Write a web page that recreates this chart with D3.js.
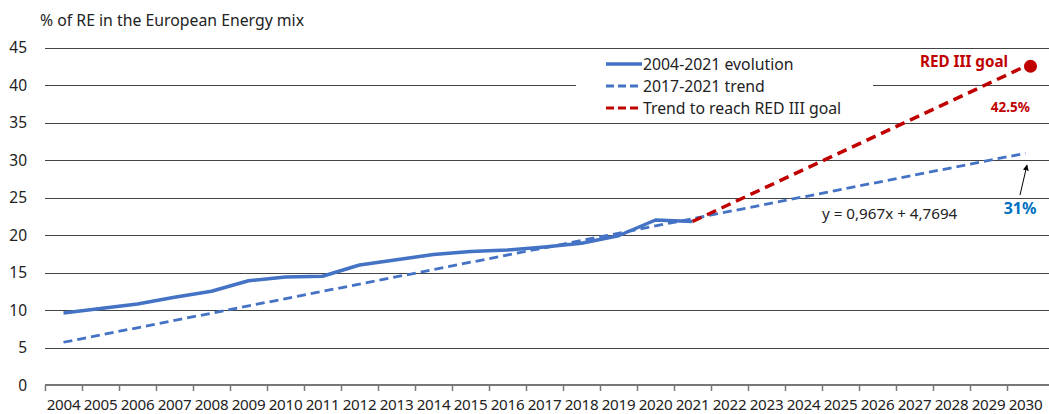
<!DOCTYPE html>
<html>
<head>
<meta charset="utf-8">
<script src="https://cdn.jsdelivr.net/npm/d3@7"></script>
<style>
  body { margin: 0; background: #fff; }
  svg { display: block; font-family: "Noto Sans", sans-serif; }
</style>
</head>
<body>
<svg id="chart" width="1049" height="414"></svg>
<script>
// categories
const years = d3.range(2004, 2031)
// 2004-2021 evolution (% RE)
const evoYears = d3.range(2004, 2022)
const evoValues = [9.6, 10.2, 10.8, 11.7, 12.5, 13.9, 14.4, 14.5, 16.0, 16.7, 17.4, 17.8, 18.0, 18.4, 18.9, 19.9, 22.0, 21.8]
// 2017-2021 trend, drawn over the whole range
const trendYears = [2004, 2030]
const trendValues = [5.7, 30.9]
// trend to reach RED III goal
const goalYears = [2021, 2030]
const goalValues = [21.8, 42.5]
const yTicks = [0, 5, 10, 15, 20, 25, 30, 35, 40, 45]

const blue = "#4472C4", red = "#C00000", lblue = "#0070C0"

const svg = d3.select("#chart")
const mLeft = 45, mRight = 1044, mTop = 47.5, mBottom = 385

const x = d3.scaleBand().domain(years).range([mLeft, mRight])
const y = d3.scaleLinear().domain([0, 45]).range([mBottom, mTop])
const cx = d => x(d) + x.bandwidth() / 2

// gridlines
svg.append("g").selectAll("line")
  .data(yTicks.filter(d => d > 0))
  .enter().append("line")
    .attr("x1", mLeft).attr("x2", 1049)
    .attr("y1", d => Math.round(y(d)) + 0.5).attr("y2", d => Math.round(y(d)) + 0.5)
    .attr("stroke", "#444").attr("stroke-width", 1)

// y labels
svg.append("g").selectAll("text")
  .data(yTicks)
  .enter().append("text")
    .attr("x", 27).attr("y", d => y(d) + 5.5)
    .attr("text-anchor", "end")
    .attr("font-size", 15.5).attr("fill", "#222")
    .text(d => d)

svg.append("text")
  .attr("x", 40).attr("y", 26)
  .attr("font-size", 15.8).attr("fill", "#222")
  .text("% of RE in the European Energy mix")

// x axis
const xAxis = svg.append("g")
xAxis.append("line")
  .attr("x1", mLeft).attr("x2", 1049)
  .attr("y1", mBottom).attr("y2", mBottom)
  .attr("stroke", "#777").attr("stroke-width", 2)
xAxis.selectAll(".tk")
  .data(years)
  .enter().append("line")
    .attr("class", "tk")
    .attr("x1", d => Math.round(x(d)) + 0.5).attr("x2", d => Math.round(x(d)) + 0.5)
    .attr("y1", mBottom).attr("y2", mBottom + 6)
    .attr("stroke", "#777").attr("stroke-width", 1.5)
xAxis.selectAll("text")
  .data(years)
  .enter().append("text")
    .attr("x", d => cx(d)).attr("y", 410)
    .attr("text-anchor", "middle")
    .attr("font-size", 15.2).attr("letter-spacing", -0.3).attr("fill", "#222")
    .text(d => d)

const line = d3.line().x(d => cx(d[0])).y(d => y(d[1]))

// legend box (white, hides grid)
svg.append("rect")
  .attr("x", 576).attr("y", 50).attr("width", 297).attr("height", 68)
  .attr("fill", "#fff")

// 2017-2021 trend
svg.append("path")
  .datum(d3.zip(trendYears, trendValues))
  .attr("d", line)
  .attr("fill", "none").attr("stroke", blue)
  .attr("stroke-width", 2.8).attr("stroke-dasharray", "9,5")

// evolution
svg.append("path")
  .datum(d3.zip(evoYears, evoValues))
  .attr("d", line)
  .attr("fill", "none").attr("stroke", blue)
  .attr("stroke-width", 3.5).attr("stroke-linejoin", "round")

// RED III trend
svg.append("path")
  .datum(d3.zip(goalYears, goalValues))
  .attr("d", line)
  .attr("fill", "none").attr("stroke", red)
  .attr("stroke-width", 3.5).attr("stroke-dasharray", "10,6")

svg.append("circle")
  .attr("cx", cx(2030) + 5).attr("cy", y(goalValues[1]))
  .attr("r", 6.5).attr("fill", red)

// legend
const legendItems = [
  {label: "2004-2021 evolution", color: blue, dash: null, w: 3.5},
  {label: "2017-2021 trend", color: blue, dash: "8,4", w: 2.8},
  {label: "Trend to reach RED III goal", color: red, dash: "8,4", w: 3}
]
const lg = svg.append("g").selectAll("g")
  .data(legendItems)
  .enter().append("g")
    .attr("transform", (d, i) => "translate(606," + (64 + i * 22) + ")")
lg.append("line")
  .attr("x1", 0).attr("x2", 36).attr("y1", 0).attr("y2", 0)
  .attr("stroke", d => d.color).attr("stroke-width", d => d.w)
  .attr("stroke-dasharray", d => d.dash)
lg.append("text")
  .attr("x", 37).attr("y", 5.5)
  .attr("font-size", 15.8).attr("fill", "#222")
  .text(d => d.label)

// annotations
svg.append("text")
  .attr("x", 1008).attr("y", 67).attr("text-anchor", "end")
  .attr("font-size", 15.2).attr("font-weight", "bold").attr("fill", red)
  .text("RED III goal")
svg.append("text")
  .attr("x", 1030).attr("y", 112).attr("text-anchor", "end")
  .attr("font-size", 13.5).attr("font-weight", "bold").attr("fill", red)
  .text("42.5%")
svg.append("text")
  .attr("x", 1020).attr("y", 214).attr("text-anchor", "middle")
  .attr("font-size", 16).attr("font-weight", "bold").attr("fill", lblue)
  .text("31%")
svg.append("text")
  .attr("x", 822).attr("y", 219)
  .attr("font-size", 15.2).attr("fill", "#222")
  .text("y = 0,967x + 4,7694")

svg.append("defs").append("marker")
  .attr("id", "arr").attr("viewBox", "0 0 10 10")
  .attr("refX", 9).attr("refY", 5)
  .attr("markerWidth", 6).attr("markerHeight", 6)
  .attr("orient", "auto")
  .append("path").attr("d", "M0,0L10,5L0,10z").attr("fill", "#000")
svg.append("line")
  .attr("x1", 1020).attr("y1", 195).attr("x2", 1027).attr("y2", 165)
  .attr("stroke", "#000").attr("stroke-width", 1)
  .attr("marker-end", "url(#arr)")
</script>
</body>
</html>
